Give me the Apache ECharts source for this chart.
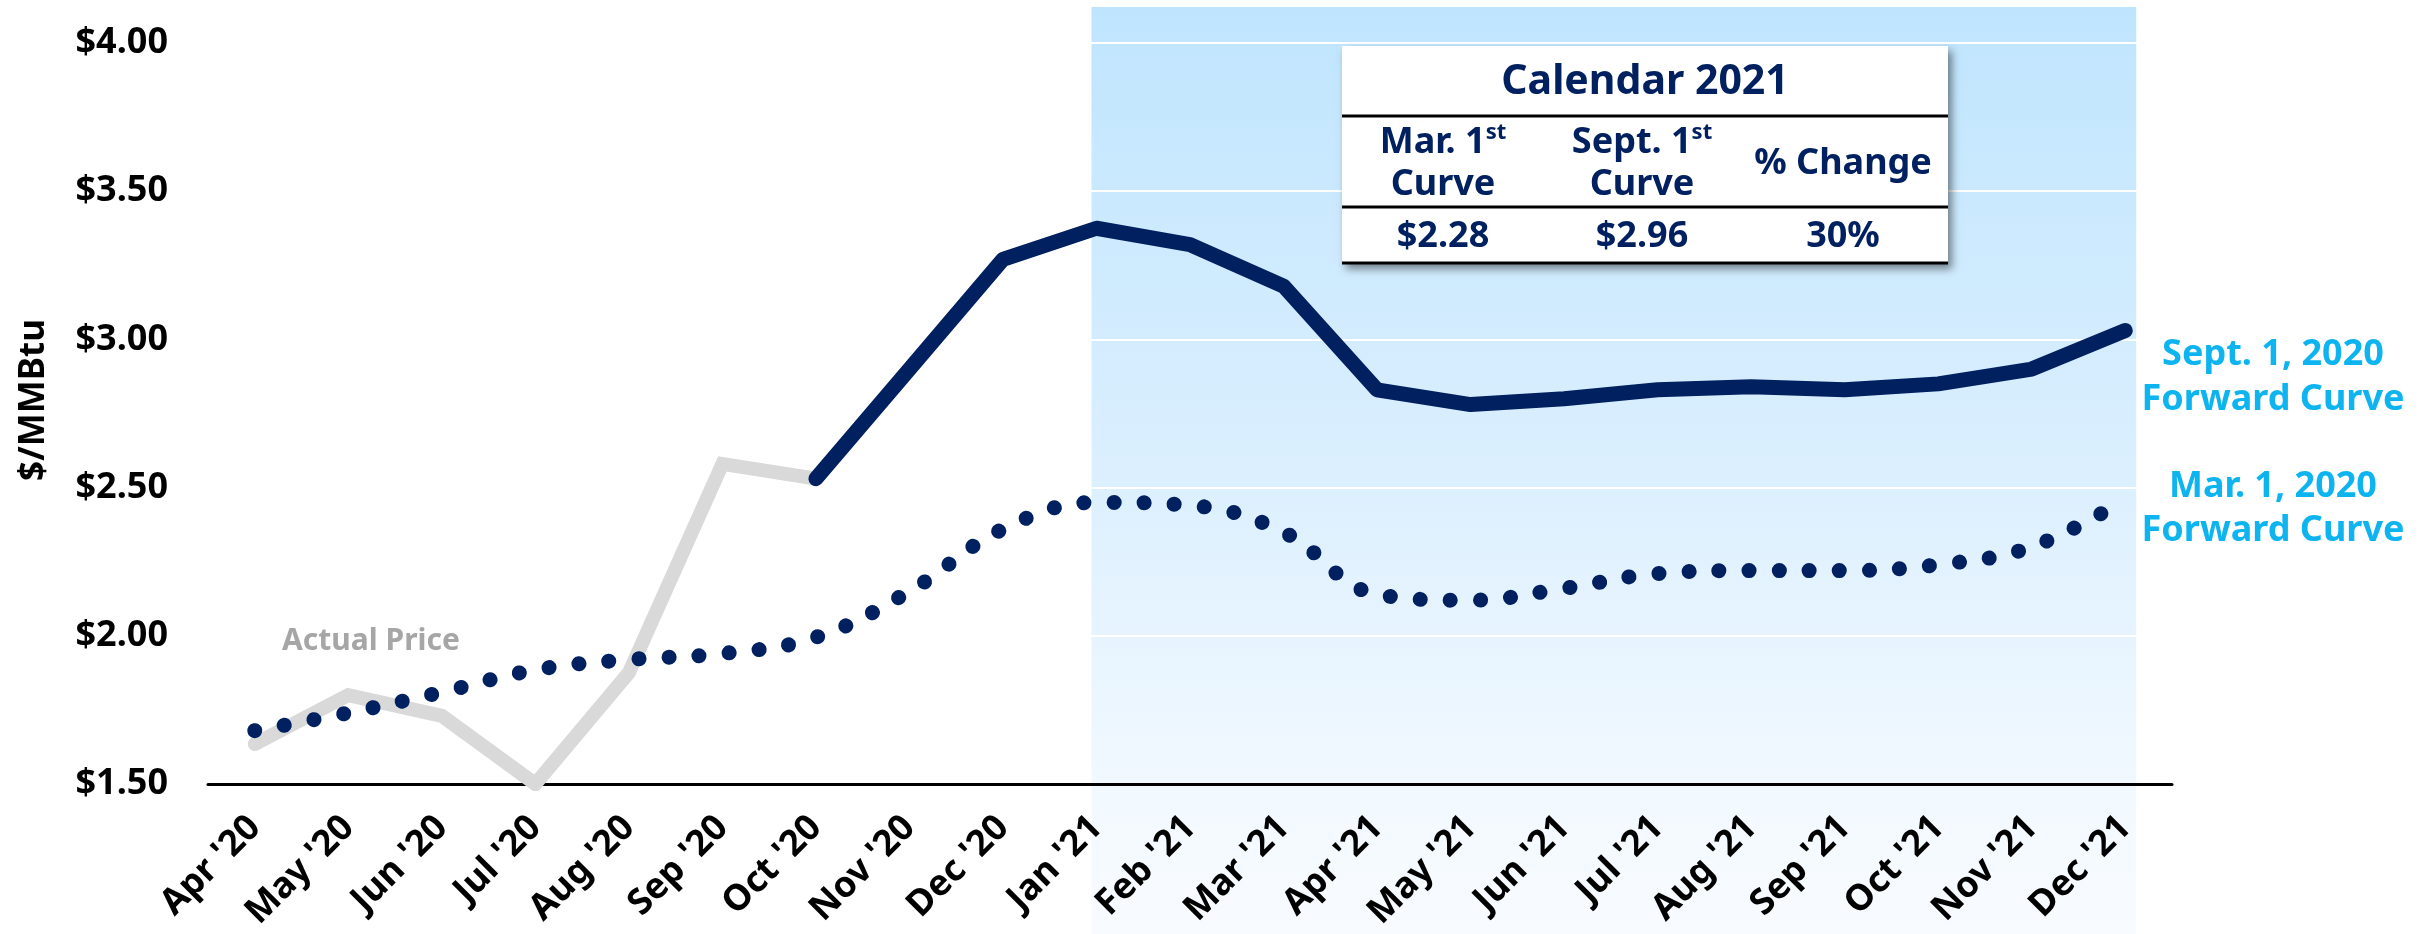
<!DOCTYPE html>
<html><head><meta charset="utf-8">
<script src="https://cdn.jsdelivr.net/npm/echarts@6/dist/echarts.min.js"></script>
<style>html,body{margin:0;padding:0;background:#fff}#c{width:2427px;height:934px}</style>
</head><body><div id="c"></div>
<script>
// ---------- data ----------
const categories = ["Apr '20","May '20","Jun '20","Jul '20","Aug '20","Sep '20","Oct '20","Nov '20","Dec '20",
  "Jan '21","Feb '21","Mar '21","Apr '21","May '21","Jun '21","Jul '21","Aug '21","Sep '21","Oct '21","Nov '21","Dec '21"];
const actualPrice = [1.635, 1.80, 1.73, 1.50, 1.875, 2.58, 2.53, null, null,
  null, null, null, null, null, null, null, null, null, null, null, null];
const sept1Curve = [null, null, null, null, null, null, 2.53, 2.90, 3.27,
  3.375, 3.32, 3.18, 2.83, 2.78, 2.80, 2.83, 2.84, 2.83, 2.85, 2.90, 3.03];
const mar1Curve = [1.68, 1.74, 1.81, 1.885, 1.92, 1.94, 1.995, 2.15, 2.36,
  2.45, 2.44, 2.35, 2.14, 2.12, 2.16, 2.21, 2.22, 2.22, 2.24, 2.30, 2.46];
const yMin = 1.5, yMax = 4.0, yStep = 0.5;
const yAxisTitle = '$/MMBtu';
const seriesNames = ['Actual Price', 'Sept. 1, 2020\nForward Curve', 'Mar. 1, 2020\nForward Curve'];
const tableTitle = 'Calendar 2021';
const tableHeaders = [['Mar. 1', 'st', 'Curve'], ['Sept. 1', 'st', 'Curve'], ['% Change', '', '']];
const tableValues = ['$2.28', '$2.96', '30%'];

// ---------- chart ----------
const FONT = "'Noto Sans', 'Open Sans', sans-serif";
const NAVY = '#002060';
const CYAN = '#0db4ef';
const chart = echarts.init(document.getElementById('c'), null, {renderer: 'canvas'});

chart.setOption({
  animation: false,
  backgroundColor: '#ffffff',
  grid: {left: 208, right: 255, top: 43, bottom: 150, containLabel: false, outerBoundsMode: 'none'},
  xAxis: {
    type: 'category', data: categories, boundaryGap: true,
    axisLine: {show: true, lineStyle: {color: '#000', width: 3}},
    axisTick: {show: false},
    splitLine: {show: false},
    axisLabel: {interval: 0, rotate: 45, margin: 38, color: '#000', fontFamily: FONT, fontWeight: 'bold', fontSize: 36}
  },
  yAxis: {
    type: 'value', min: yMin, max: yMax, interval: yStep,
    axisLine: {show: false}, axisTick: {show: false},
    splitLine: {show: true, lineStyle: {color: '#ffffff', width: 2}},
    axisLabel: {margin: 40, color: '#000', fontFamily: FONT, fontWeight: 'bold', fontSize: 36,
      formatter: v => '$' + v.toFixed(2)}
  },
  series: [
    {name: seriesNames[0], type: 'line', data: actualPrice, showSymbol: false, z: 2, clip: true,
      lineStyle: {color: '#d9d9d9', width: 14, cap: 'round', join: 'miter'}},
    {name: seriesNames[2], type: 'line', data: mar1Curve, showSymbol: false, smooth: 0.4, z: 3,
      lineStyle: {color: NAVY, width: 15, type: [0.1, 30], cap: 'round'}},
    {name: seriesNames[1], type: 'line', data: sept1Curve, showSymbol: false, z: 4,
      lineStyle: {color: NAVY, width: 15, cap: 'round', join: 'round'}}
  ]
});

const xJan = chart.convertToPixel({xAxisIndex: 0}, "Jan '21");
const xDec = chart.convertToPixel({xAxisIndex: 0}, "Dec '21");

const headerX = [1443, 1642, 1843];
const graphics = [
  {type: 'rect', z: -10, silent: true,
    shape: {x: xJan - 5, y: 7, width: (xDec + 11) - (xJan - 5), height: 934 - 7},
    style: {fill: new echarts.graphic.LinearGradient(0, 0, 0, 1, [
      {offset: 0, color: '#bfe5fe'}, {offset: 0.5, color: '#dbeffe'}, {offset: 0.85, color: '#f2f9ff'}, {offset: 1, color: '#f8fbff'}])}},
  // y axis title
  {type: 'text', x: 34, y: 400, rotation: Math.PI / 2,
    style: {text: yAxisTitle, fill: '#000', font: `bold 35px ${FONT}`, align: 'center', verticalAlign: 'middle'}},
  // actual price label
  {type: 'text', x: 371, y: 641,
    style: {text: seriesNames[0], fill: '#a6a6a6', font: `bold 30px ${FONT}`, align: 'center', verticalAlign: 'middle'}},
  // right labels
  {type: 'text', x: 2273, y: 377,
    style: {text: seriesNames[1], fill: CYAN, font: `bold 36px ${FONT}`, lineHeight: 45, align: 'center', verticalAlign: 'middle'}},
  {type: 'text', x: 2273, y: 509,
    style: {text: seriesNames[2], fill: CYAN, font: `bold 36px ${FONT}`, lineHeight: 44, align: 'center', verticalAlign: 'middle'}},
  // table box
  {type: 'rect', z: 20, shape: {x: 1342, y: 46, width: 606, height: 218},
    style: {fill: '#fff', shadowBlur: 8, shadowOffsetX: 4, shadowOffsetY: 5, shadowColor: 'rgba(0,0,0,0.45)'}},
  {type: 'line', z: 21, shape: {x1: 1342, y1: 116, x2: 1948, y2: 116}, style: {stroke: '#000', lineWidth: 3}},
  {type: 'line', z: 21, shape: {x1: 1342, y1: 207, x2: 1948, y2: 207}, style: {stroke: '#000', lineWidth: 3}},
  {type: 'line', z: 21, shape: {x1: 1342, y1: 263, x2: 1948, y2: 263}, style: {stroke: '#000', lineWidth: 3}},
  {type: 'text', z: 22, x: 1645, y: 82,
    style: {text: tableTitle, fill: NAVY, font: `bold 41px ${FONT}`, align: 'center', verticalAlign: 'middle'}}
];
tableHeaders.forEach((h, i) => {
  const text = h[1] ? `{m|${h[0]}}{s|${h[1]}}\n{m|${h[2]}}` : `{m|${h[0]}}`;
  graphics.push({type: 'text', z: 22, x: headerX[i], y: 164,
    style: {text: text, align: 'center', verticalAlign: 'middle', fill: NAVY,
      rich: {m: {fontFamily: FONT, fontWeight: 'bold', fontSize: 36, lineHeight: 42, fill: NAVY, color: NAVY},
             s: {fontFamily: FONT, fontWeight: 'bold', fontSize: 22, lineHeight: 32, verticalAlign: 'top', fill: NAVY, color: NAVY}},
      font: `bold 36px ${FONT}`}});
  graphics.push({type: 'text', z: 22, x: headerX[i], y: 237,
    style: {text: tableValues[i], fill: NAVY, font: `bold 36px ${FONT}`, align: 'center', verticalAlign: 'middle'}});
});
chart.setOption({graphic: {elements: graphics}});
</script>
</body></html>
